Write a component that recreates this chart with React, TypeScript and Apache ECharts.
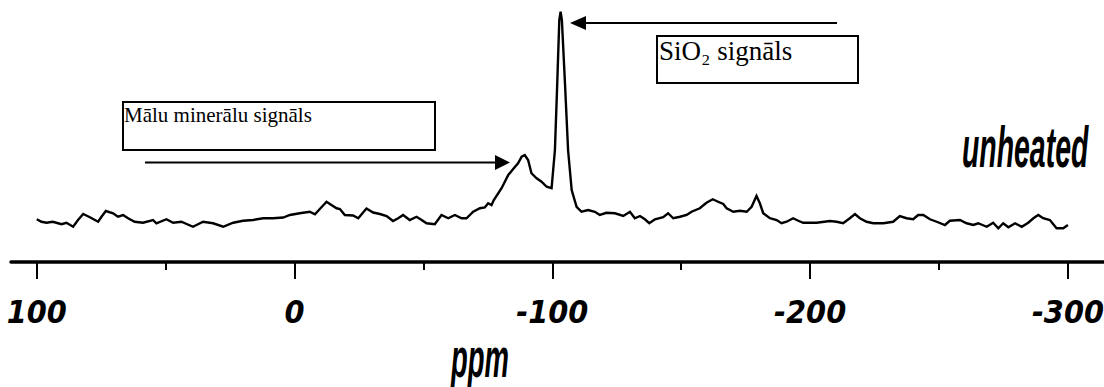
import React, { useEffect, useRef } from "react";
import * as echarts from "echarts";

// chemical shift (ppm) of each trace point
const ppm: number[] = [
  100, 98.2, 96.2, 93.8, 90.4, 88.5, 85.9, 84.0, 82.0, 79.4,
  76.2, 74.9, 73.2, 70.4, 68.5, 66.5, 64.6, 62.0, 58.8, 54.9,
  53.6, 49.7, 47.1, 43.9, 39.4, 35.5, 31.6, 27.7, 23.8, 20.0,
  16.1, 12.2, 8.3, 4.4, 1.8, -2.0, -5.9, -7.9, -9.8, -12.4,
  -14.3, -16.3, -17.6, -19.5, -22.7, -24.7, -27.9, -30.5, -33.1, -35.7,
  -38.2, -40.2, -42.1, -44.7, -47.3, -49.3, -51.2, -54.4, -57.0, -59.6,
  -62.2, -64.8, -66.7, -69.3, -71.9, -73.8, -75.1, -76.4, -77.3, -80.3,
  -82.9, -84.8, -86.7, -88.1, -89.3, -90.6, -91.9, -93.9, -95.8, -97.8,
  -99.7, -101.0, -101.9, -102.7, -103.2, -103.7, -104.9, -106.1, -107.5, -109.4,
  -111.3, -113.9, -116.5, -118.4, -121.0, -124.3, -127.5, -130.1, -132.0, -134.0,
  -135.9, -137.6, -139.8, -143.0, -144.9, -146.9, -149.5, -152.1, -154.0, -157.2,
  -159.8, -162.2, -164.3, -166.3, -167.6, -170.2, -172.8, -175.4, -177.3, -179.2,
  -180.5, -181.8, -184.4, -187.0, -188.9, -190.9, -193.4, -195.4, -197.3, -202.5,
  -207.7, -210.3, -212.8, -215.4, -217.4, -219.3, -221.9, -224.5, -228.4, -232.2,
  -234.8, -237.4, -240.0, -241.9, -243.9, -246.5, -249.1, -252.3, -254.2, -258.1,
  -260.7, -263.3, -265.2, -268.5, -271.0, -273.0, -274.9, -276.9, -279.5, -282.1,
  -284.6, -286.6, -288.5, -290.4, -293.0, -295.6, -298.2, -300.0,
];

// signal intensity (arbitrary units, tallest peak = 100)
const intensity: number[] = [
  17.1, 16.1, 15.7, 16.1, 15.1, 15.7, 14.1, 16.8, 19.2, 17.9,
  16.1, 18.1, 20.4, 19.5, 18.1, 18.8, 17.5, 16.1, 15.7, 16.8,
  15.5, 17.1, 15.7, 16.1, 14.1, 16.1, 15.5, 14.1, 15.7, 16.5,
  16.8, 17.5, 17.5, 17.8, 18.8, 19.5, 20.1, 19.1, 21.2, 24.1,
  22.8, 21.5, 21.2, 18.8, 18.6, 17.5, 21.4, 19.8, 19.2, 18.4,
  16.4, 17.5, 18.8, 16.8, 18.1, 16.8, 15.5, 15.1, 18.8, 17.5,
  18.8, 17.5, 17.5, 20.1, 21.5, 21.8, 23.5, 22.8, 24.8, 29.5,
  34.8, 37.2, 39.5, 42.1, 42.8, 40.8, 35.5, 33.5, 32.1, 30.1,
  29.5, 44.8, 71.5, 96.8, 100.1, 96.8, 71.5, 44.8, 28.8, 22.1,
  20.1, 20.8, 20.1, 18.8, 19.7, 19.5, 18.4, 20.1, 17.5, 18.4,
  17.1, 15.5, 17.1, 17.9, 19.5, 17.5, 18.1, 18.8, 20.1, 21.5,
  23.7, 25.1, 24.1, 23.2, 21.5, 20.1, 20.5, 20.1, 22.1, 26.4,
  23.5, 19.5, 17.5, 16.8, 15.5, 16.1, 17.5, 16.5, 15.7, 15.7,
  16.4, 16.1, 15.5, 17.5, 19.2, 17.5, 16.1, 15.5, 15.5, 16.1,
  18.4, 17.5, 17.1, 18.8, 18.8, 17.1, 16.1, 14.8, 16.5, 16.8,
  15.5, 14.8, 15.5, 14.1, 15.7, 13.5, 15.5, 13.9, 15.5, 14.1,
  15.7, 17.5, 18.8, 17.5, 16.8, 13.5, 13.5, 14.8,
];

const majorTicks: number[] = [100, 0, -100, -200, -300];
const minorTicks: number[] = [50, -50, -150, -250];

const axisTitle = "ppm";
const sampleLabel = "unheated";
const mineralLabel = "Mālu minerālu signāls";
const silicaLabel = "SiO₂ signāls";

const heavy = "'Liberation Sans Narrow', 'DejaVu Sans Condensed', 'Liberation Sans', sans-serif";
const serif = "'Liberation Serif', 'DejaVu Serif', serif";

export default function App() {
  const ref = useRef<HTMLDivElement>(null);

  useEffect(() => {
    if (!ref.current) return;
    const chart = echarts.init(ref.current, undefined, { renderer: "svg" });
    const data = ppm.map((p, i) => [p, intensity[i]]);

    chart.setOption({
      animation: false,
      backgroundColor: "#ffffff",
      grid: { left: 11, right: 0, top: 0, bottom: 125, containLabel: false, outerBoundsMode: "none" },
      xAxis: [
        {
          type: "value",
          min: -314,
          max: 110,
          inverse: true,
          position: "bottom",
          splitLine: { show: false },
          axisLine: { show: true, lineStyle: { color: "#000", width: 3.5 } },
          axisTick: {
            show: true,
            customValues: majorTicks,
            length: 17,
            lineStyle: { color: "#000", width: 2 },
          },
          axisLabel: {
            show: true,
            customValues: majorTicks,
            margin: 34,
            color: "#000",
            fontFamily: heavy,
            fontWeight: 900,
            fontStyle: "italic",
            fontSize: 32,
            hideOverlap: false,
          },
        },
        {
          type: "value",
          min: -314,
          max: 110,
          inverse: true,
          position: "bottom",
          splitLine: { show: false },
          axisLine: { show: false },
          axisTick: {
            show: true,
            customValues: minorTicks,
            length: 8,
            lineStyle: { color: "#000", width: 2 },
          },
          axisLabel: { show: false },
        },
      ],
      yAxis: { type: "value", min: 0, max: 104.8, show: false },
      series: [
        {
          type: "line",
          xAxisIndex: 0,
          data,
          showSymbol: false,
          symbol: "none",
          clip: false,
          lineStyle: { color: "#000", width: 2.4, join: "miter" },
        },
      ],
      graphic: [
        {
          type: "rect",
          shape: { x: 123, y: 102, width: 312, height: 48 },
          style: { fill: "#fff", stroke: "#000", lineWidth: 2 },
        },
        {
          type: "text",
          x: 124,
          y: 104,
          style: { text: mineralLabel, fontFamily: serif, fontSize: 21, fill: "#000", textVerticalAlign: "top" },
        },
        {
          type: "rect",
          shape: { x: 657, y: 36, width: 201, height: 47 },
          style: { fill: "#fff", stroke: "#000", lineWidth: 2 },
        },
        {
          type: "text",
          x: 659,
          y: 37,
          style: { text: silicaLabel, fontFamily: serif, fontSize: 27, fill: "#000", textVerticalAlign: "top" },
        },
        {
          type: "line",
          shape: { x1: 145, y1: 162.5, x2: 497, y2: 162.5 },
          style: { stroke: "#000", lineWidth: 2 },
        },
        {
          type: "polygon",
          shape: { points: [[495, 155], [510, 162.5], [495, 170]] },
          style: { fill: "#000" },
        },
        {
          type: "line",
          shape: { x1: 584, y1: 23, x2: 837, y2: 23 },
          style: { stroke: "#000", lineWidth: 2 },
        },
        {
          type: "polygon",
          shape: { points: [[570, 23], [586, 16], [586, 30]] },
          style: { fill: "#000" },
        },
        {
          type: "text",
          x: 962,
          y: 147,
          scaleX: 0.49,
          style: {
            text: sampleLabel,
            fontFamily: "'Liberation Sans', sans-serif",
            fontWeight: "bold",
            fontStyle: "italic",
            fontSize: 58,
            fill: "#000",
            textVerticalAlign: "middle",
          },
        },
        {
          type: "text",
          x: 451,
          y: 357,
          scaleX: 0.49,
          style: {
            text: axisTitle,
            fontFamily: "'Liberation Sans', sans-serif",
            fontWeight: "bold",
            fontStyle: "italic",
            fontSize: 56,
            fill: "#000",
            textVerticalAlign: "middle",
          },
        },
      ],
    });

    return () => chart.dispose();
  }, []);

  return (
    <div
      ref={ref}
      style={{ position: "absolute", left: 0, top: 0, width: 1104, height: 387, background: "#fff" }}
    />
  );
}
